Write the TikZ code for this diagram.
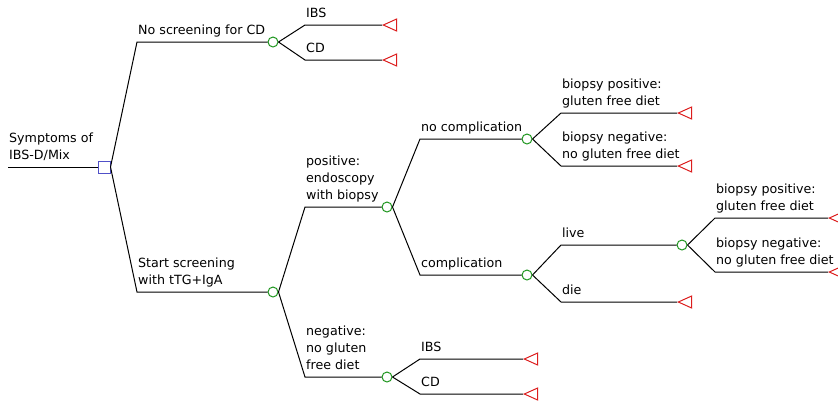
\documentclass[tikz,border=0pt]{standalone}
\usepackage{fontspec}
\setmainfont{DejaVu Sans}
\usetikzlibrary{shapes.geometric}
\definecolor{decblue}{RGB}{80,80,200}
\definecolor{chgreen}{RGB}{30,150,30}
\definecolor{endred}{RGB}{220,30,30}
\begin{document}
\begin{tikzpicture}[x=0.75pt,y=-0.75pt,line width=0.75pt,
  every node/.style={inner sep=0},
  decision/.style={rectangle,draw=decblue,fill=white,minimum size=9pt},
  chance/.style={circle,draw=chgreen,fill=white,minimum size=7.5pt},
  payoff/.style={isosceles triangle,shape border rotate=180,isosceles triangle stretches,draw=endred,minimum width=9pt,minimum height=10pt,anchor=apex},
  lbl/.style={anchor=south west,align=left,text depth=0pt,font=\fontsize{9.5}{12.75}\selectfont,yshift=5.25pt,xshift=0.5pt}]
\useasboundingbox (0,0) rectangle (838,401);

% nodes
\coordinate (s0) at (8,167);
\node [decision] (dec) at (104,167) {};
\node [chance] (c1) at (273,42) {};
\node [chance] (c2) at (273,292) {};
\node [chance] (c3) at (387,207) {};
\node [chance] (c4) at (387,377) {};
\node [chance] (c5) at (527,139) {};
\node [chance] (c6) at (527,275) {};
\node [chance] (c7) at (682,245) {};
\node [payoff] (t1) at (382,25) {};
\node [payoff] (t2) at (382,60) {};
\node [payoff] (t3) at (523,359) {};
\node [payoff] (t4) at (523,394) {};
\node [payoff] (t5) at (677,113) {};
\node [payoff] (t6) at (677,166) {};
\node [payoff] (t7) at (677,302) {};
\node [payoff] (t8) at (828,218) {};
\node [payoff] (t9) at (828,272) {};

% elbows
\coordinate (k1) at (137,42);
\coordinate (k2) at (137,292);
\coordinate (k3) at (305,25);
\coordinate (k4) at (305,60);
\coordinate (k5) at (305,207);
\coordinate (k6) at (305,377);
\coordinate (k7) at (420,139);
\coordinate (k8) at (420,275);
\coordinate (k9) at (420,359);
\coordinate (k10) at (420,394);
\coordinate (k11) at (561,113);
\coordinate (k12) at (561,166);
\coordinate (k13) at (561,245);
\coordinate (k14) at (561,302);
\coordinate (k15) at (715,218);
\coordinate (k16) at (715,272);

% branches
\draw (s0) -- (dec.west);
\draw (dec.east) -- (k1) -- (c1);
\draw (dec.east) -- (k2) -- (c2);
\draw (c1.east) -- (k3) -- (t1.apex);
\draw (c1.east) -- (k4) -- (t2.apex);
\draw (c2.east) -- (k5) -- (c3);
\draw (c2.east) -- (k6) -- (c4);
\draw (c3.east) -- (k7) -- (c5);
\draw (c3.east) -- (k8) -- (c6);
\draw (c4.east) -- (k9) -- (t3.apex);
\draw (c4.east) -- (k10) -- (t4.apex);
\draw (c5.east) -- (k11) -- (t5.apex);
\draw (c5.east) -- (k12) -- (t6.apex);
\draw (c6.east) -- (k13) -- (c7);
\draw (c6.east) -- (k14) -- (t7.apex);
\draw (c7.east) -- (k15) -- (t8.apex);
\draw (c7.east) -- (k16) -- (t9.apex);

% labels
\node [lbl] (l0) at (s0) {Symptoms of\\IBS-D/Mix};
\node [lbl] (l1) at (k1) {No screening for CD};
\node [lbl] (l2) at (k2) {Start screening\\with tTG+IgA};
\node [lbl] (l3) at (k3) {IBS};
\node [lbl] (l4) at (k4) {CD};
\node [lbl] (l5) at (k5) {positive:\\endoscopy\\with biopsy};
\node [lbl] (l6) at (k6) {negative:\\no gluten\\free diet};
\node [lbl] (l7) at (k7) {no complication};
\node [lbl] (l8) at (k8) {complication};
\node [lbl] (l9) at (k9) {IBS};
\node [lbl] (l10) at (k10) {CD};
\node [lbl] (l11) at (k11) {biopsy positive:\\gluten free diet};
\node [lbl] (l12) at (k12) {biopsy negative:\\no gluten free diet};
\node [lbl] (l13) at (k13) {live};
\node [lbl] (l14) at (k14) {die};
\node [lbl] (l15) at (k15) {biopsy positive:\\gluten free diet};
\node [lbl] (l16) at (k16) {biopsy negative:\\no gluten free diet};
\end{tikzpicture}
\end{document}
